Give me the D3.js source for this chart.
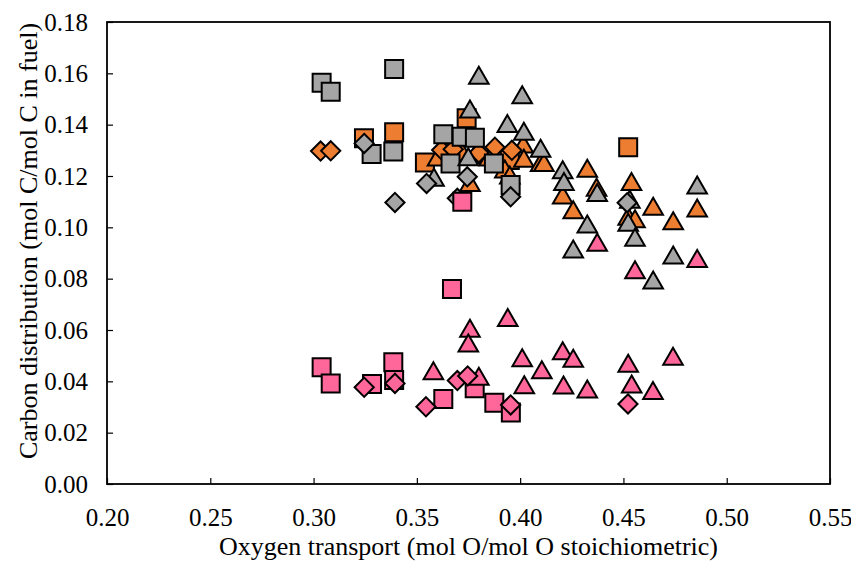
<!DOCTYPE html>
<html><head><meta charset="utf-8">
<script src="https://cdn.jsdelivr.net/npm/d3@7"></script>
<style>body{margin:0;background:#fff}svg{display:block}text{font-family:"Liberation Serif","Times New Roman",serif;fill:#000}</style>
</head><body><svg id="c" width="851" height="562"></svg>
<script>
const xTicks = [0.20,0.25,0.30,0.35,0.40,0.45,0.50,0.55];
const yTicks = [0.00,0.02,0.04,0.06,0.08,0.10,0.12,0.14,0.16,0.18];
const xTitle = "Oxygen transport (mol O/mol O stoichiometric)";
const yTitle = "Carbon distribution (mol C/mol C in fuel)";

const orangeSquares = [[0.3244,0.1347],[0.3390,0.1370],[0.3539,0.1253],[0.3741,0.1425],[0.3950,0.1262],[0.4523,0.1312]];
const orangeTriangles = [[0.3600,0.1270],[0.3720,0.1290],[0.3780,0.1280],[0.3850,0.1270],[0.3926,0.1223],[0.4015,0.1321],[0.4018,0.1265],[0.4099,0.1249],[0.3757,0.1171],[0.3950,0.1200],
  [0.4115,0.1249],[0.4325,0.1226],[0.4370,0.1152],[0.4206,0.1122],[0.4257,0.1065],[0.4539,0.1175],[0.4523,0.1039],[0.4556,0.1030],[0.4644,0.1078],[0.4741,0.1022],[0.4857,0.1071]];
const orangeDiamonds = [[0.3034,0.1297],[0.3083,0.1298],[0.3620,0.1301],[0.3676,0.1304],[0.3878,0.1312],[0.3960,0.1300],[0.3800,0.1290]];
const graySquares = [[0.3039,0.1563],[0.3083,0.1528],[0.3390,0.1617],[0.3281,0.1286],[0.3386,0.1295],[0.3628,0.1363],[0.3717,0.1353],[0.3781,0.1349],[0.3663,0.1249],[0.3873,0.1249],[0.3954,0.1165]];
const grayTriangles = [[0.3800,0.1589],[0.4010,0.1513],[0.3757,0.1457],[0.3938,0.1401],[0.4018,0.1370],[0.4099,0.1304],[0.3749,0.1271],[0.3583,0.1191],
  [0.4206,0.1220],[0.4212,0.1175],[0.4373,0.1132],[0.4325,0.1009],[0.4257,0.0912],[0.4531,0.1106],[0.4523,0.1016],[0.4556,0.0957],[0.4644,0.0791],[0.4741,0.0888],[0.4857,0.1161]];
const grayDiamonds = [[0.3245,0.1327],[0.3394,0.1097],[0.3547,0.1171],[0.3744,0.1197],[0.3696,0.1113],[0.3954,0.1119],[0.4518,0.1096]];
const pinkSquares = [[0.3039,0.0455],[0.3083,0.0392],[0.3283,0.0390],[0.3386,0.0474],[0.3390,0.0405],[0.3628,0.0331],[0.3670,0.0760],[0.3720,0.1100],[0.3780,0.0373],[0.3875,0.0317],[0.3955,0.0279]];
const pinkTriangles = [[0.3580,0.0437],[0.3757,0.0603],[0.3749,0.0545],[0.3940,0.0645],[0.3800,0.0416],[0.4010,0.0488],[0.4020,0.0383],[0.4105,0.0441],[0.4206,0.0515],[0.4257,0.0486],[0.4210,0.0382],[0.4325,0.0366],[0.4523,0.0467],[0.4540,0.0386],[0.4643,0.0360],[0.4740,0.0494],[0.4373,0.0938],[0.4556,0.0831],[0.4857,0.0875]];
const pinkDiamonds = [[0.3245,0.0377],[0.3394,0.0392],[0.3544,0.0301],[0.3696,0.0403],[0.3746,0.0421],[0.3954,0.0308],[0.4522,0.0312]];

const ORANGE="#ED7D31", GRAY="#A5A5A5", PINK="#FF6699";
const series = [
  {data:orangeSquares, shape:"square", color:ORANGE},
  {data:orangeTriangles, shape:"triangle", color:ORANGE},
  {data:orangeDiamonds, shape:"diamond", color:ORANGE},
  {data:graySquares, shape:"square", color:GRAY},
  {data:grayTriangles, shape:"triangle", color:GRAY},
  {data:grayDiamonds, shape:"diamond", color:GRAY},
  {data:pinkSquares, shape:"square", color:PINK},
  {data:pinkTriangles, shape:"triangle", color:PINK},
  {data:pinkDiamonds, shape:"diamond", color:PINK}
];

const L=107, R=830, T=22, B=484;
const svg = d3.select("#c");
const x = d3.scaleLinear().domain([0.20,0.55]).range([L,R]);
const y = d3.scaleLinear().domain([0,0.18]).range([B,T]);

// frame
svg.append("rect").attr("x",L).attr("y",T).attr("width",R-L).attr("height",B-T)
  .attr("fill","none").attr("stroke","#000").attr("stroke-width",1.8);

const xAxis = svg.append("g").attr("transform",`translate(0,${B})`)
  .call(d3.axisBottom(x).tickValues(xTicks).tickFormat(d3.format(".2f")).tickSize(-6).tickPadding(24));
const yAxis = svg.append("g").attr("transform",`translate(${L},0)`)
  .call(d3.axisLeft(y).tickValues(yTicks).tickFormat(d3.format(".2f")).tickSize(-6).tickPadding(19));
[xAxis,yAxis].forEach(g=>{
  g.select(".domain").remove();
  g.selectAll(".tick line").attr("stroke","#000").attr("stroke-width",1.2);
  g.selectAll("text").style("font-family",'"Liberation Serif",serif').style("font-size","25px").attr("fill","#000");
});

function shapePath(shape){
  if(shape==="square"){const s=9;return `M${-s},${-s}H${s}V${s}H${-s}Z`;}
  if(shape==="triangle"){return `M0,-9.5L9.8,7.5L-9.8,7.5Z`;}
  const d=9.6; return `M0,${-d}L${d},0L0,${d}L${-d},0Z`;
}
series.forEach(s=>{
  svg.append("g").selectAll("path").data(s.data).join("path")
    .attr("d",shapePath(s.shape))
    .attr("transform",d=>`translate(${x(d[0])},${y(d[1])})`)
    .attr("fill",s.color).attr("stroke","#000").attr("stroke-width",2).attr("stroke-linejoin","miter");
});

svg.append("text").attr("x",(L+R)/2).attr("y",555).attr("text-anchor","middle")
  .style("font-size","26px").text(xTitle);
svg.append("text").attr("transform",`translate(37,241) rotate(-90)`).attr("text-anchor","middle")
  .style("font-size","26px").text(yTitle);
</script></body></html>
